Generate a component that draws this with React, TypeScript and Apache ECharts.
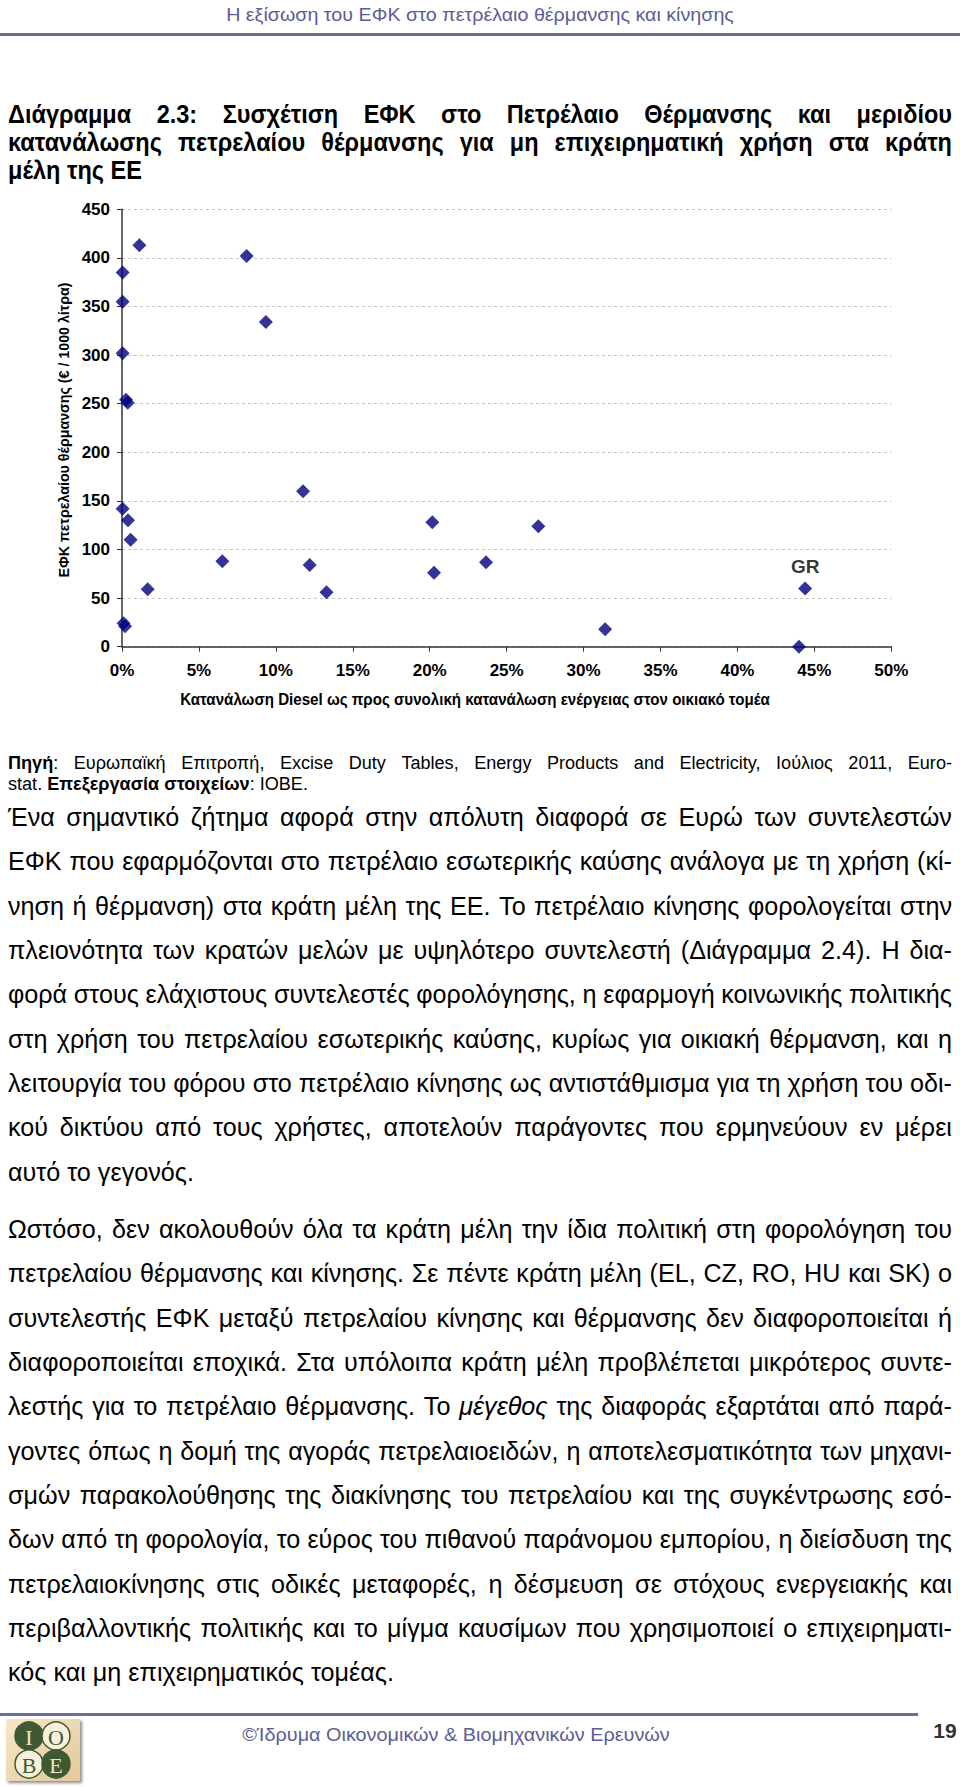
import React, { useEffect, useRef } from 'react';
import * as echarts from 'echarts';

// ---------- DATA ----------
const dieselShare = [1.13, 0.04, 0.04, 0.04, 0.26, 0.37, 0.04, 0.39, 0.56, 1.67, 0.1, 0.2, 8.1, 9.35, 6.52, 11.77, 12.2, 13.29, 20.17, 20.28, 23.66, 27.06, 31.4, 44.4, 44.0];
const heatingExcise = [413, 385, 355, 302, 254, 251, 142, 130, 110, 59, 24, 21, 402, 334, 88, 160, 84, 56, 128, 76, 87, 124, 18, 60, 0];
const pointLabels = ['', '', '', '', '', '', '', '', '', '', '', '', '', '', '', '', '', '', '', '', '', '', '', 'GR', ''];
const xTicks = [0, 5, 10, 15, 20, 25, 30, 35, 40, 45, 50];
const yTicks = [0, 50, 100, 150, 200, 250, 300, 350, 400, 450];

const headerText = 'Η εξίσωση του ΕΦΚ στο πετρέλαιο θέρμανσης και κίνησης';
const titleLines = [
  'Διάγραμμα 2.3: Συσχέτιση ΕΦΚ στο Πετρέλαιο Θέρμανσης και μεριδίου',
  'κατανάλωσης πετρελαίου θέρμανσης για μη επιχειρηματική χρήση στα κράτη',
  'μέλη της ΕΕ',
];
const yAxisTitle = 'ΕΦΚ πετρελαίου θέρμανσης (€ / 1000 λίτρα)';
const xAxisTitle = 'Κατανάλωση Diesel ως προς συνολική κατανάλωση ενέργειας στον οικιακό τομέα';
const sourceLines = [
  '**Πηγή**: Ευρωπαϊκή Επιτροπή, Excise Duty Tables, Energy Products and Electricity, Ιούλιος 2011, Euro-',
  'stat. **Επεξεργασία στοιχείων**: ΙΟΒΕ.',
];
const para1 = [
  'Ένα σημαντικό ζήτημα αφορά στην απόλυτη διαφορά σε Ευρώ των συντελεστών',
  'ΕΦΚ που εφαρμόζονται στο πετρέλαιο εσωτερικής καύσης ανάλογα με τη χρήση (κί-',
  'νηση ή θέρμανση) στα κράτη μέλη της ΕΕ. Το πετρέλαιο κίνησης φορολογείται στην',
  'πλειονότητα των κρατών μελών με υψηλότερο συντελεστή (Διάγραμμα 2.4). Η δια-',
  'φορά στους ελάχιστους συντελεστές φορολόγησης, η εφαρμογή κοινωνικής πολιτικής',
  'στη χρήση του πετρελαίου εσωτερικής καύσης, κυρίως για οικιακή θέρμανση, και η',
  'λειτουργία του φόρου στο πετρέλαιο κίνησης ως αντιστάθμισμα για τη χρήση του οδι-',
  'κού δικτύου από τους χρήστες, αποτελούν παράγοντες που ερμηνεύουν εν μέρει',
  'αυτό το γεγονός.',
];
const para2 = [
  'Ωστόσο, δεν ακολουθούν όλα τα κράτη μέλη την ίδια πολιτική στη φορολόγηση του',
  'πετρελαίου θέρμανσης και κίνησης. Σε πέντε κράτη μέλη (EL, CZ, RO, HU και SK) ο',
  'συντελεστής ΕΦΚ μεταξύ πετρελαίου κίνησης και θέρμανσης δεν διαφοροποιείται ή',
  'διαφοροποιείται εποχικά. Στα υπόλοιπα κράτη μέλη προβλέπεται μικρότερος συντε-',
  'λεστής για το πετρέλαιο θέρμανσης. Το __μέγεθος__ της διαφοράς εξαρτάται από παρά-',
  'γοντες όπως η δομή της αγοράς πετρελαιοειδών, η αποτελεσματικότητα των μηχανι-',
  'σμών παρακολούθησης της διακίνησης του πετρελαίου και της συγκέντρωσης εσό-',
  'δων από τη φορολογία, το εύρος του πιθανού παράνομου εμπορίου, η διείσδυση της',
  'πετρελαιοκίνησης στις οδικές μεταφορές, η δέσμευση σε στόχους ενεργειακής και',
  'περιβαλλοντικής πολιτικής και το μίγμα καυσίμων που χρησιμοποιεί ο επιχειρηματι-',
  'κός και μη επιχειρηματικός τομέας.',
];
const footerText = '©Ίδρυμα Οικονομικών & Βιομηχανικών Ερευνών';
const pageNumber = '19';

type Part = { t: string; w: string; s: string };

function parseLine(line: string): Part[][] {
  const words: Part[][] = [];
  let cur: Part[] = [];
  let bold = false;
  let ital = false;
  const pieces = line.split(/(\*\*|__)/);
  for (const p of pieces) {
    if (p === '**') { bold = !bold; continue; }
    if (p === '__') { ital = !ital; continue; }
    const chunks = p.split(' ');
    chunks.forEach((c, i) => {
      if (i > 0) { if (cur.length) words.push(cur); cur = []; }
      if (c) cur.push({ t: c, w: bold ? 'bold' : 'normal', s: ital ? 'italic' : 'normal' });
    });
  }
  if (cur.length) words.push(cur);
  return words;
}

export default function App() {
  const ref = useRef<HTMLDivElement>(null);
  useEffect(() => {
    const el = ref.current!;
    const chart = echarts.init(el, null, { renderer: 'svg' });
    const cv = document.createElement('canvas');
    const ctx = cv.getContext('2d')!;
    const probe = (font: string) => { ctx.font = font; return ctx.measureText('abcdefghijklmnopqrstuvwxyz0123456789').width; };
    const hasNarrow = Math.abs(probe('bold 20px "Liberation Sans Narrow", monospace') - probe('bold 20px monospace')) > 1;
    const FAM = hasNarrow ? 'Liberation Sans Narrow' : 'Liberation Sans';

    const mw = (t: string, size: number, weight = 'normal', style = 'normal') => {
      ctx.font = `${style} ${weight} ${size}px "${FAM}"`;
      return ctx.measureText(t).width;
    };
    const clamp = (v: number, a: number, b: number) => Math.max(a, Math.min(b, v));

    const els: any[] = [];
    const txt = (text: string, x: number, y: number, size: number, o: any = {}) => {
      els.push({
        type: 'text', x, y, scaleX: o.sx ?? 1, rotation: o.rot ?? 0, silent: true,
        style: {
          text, fontSize: size, fontFamily: FAM, fontWeight: o.w ?? 'normal', fontStyle: o.s ?? 'normal',
          fill: o.fill ?? '#000', align: o.align ?? 'left', verticalAlign: 'middle',
          textAlign: o.align ?? 'left', textVerticalAlign: 'middle',
        },
      });
    };
    const layLine = (line: string, x0: number, W: number, y: number, size: number, sx: number, justify: boolean, fill = '#000') => {
      const words = parseLine(line);
      const ww = words.map((wd) => wd.map((p) => mw(p.t, size, p.w, p.s) * sx));
      const wsum = ww.map((a) => a.reduce((s, v) => s + v, 0));
      const total = wsum.reduce((s, v) => s + v, 0);
      const space = mw(' ', size) * sx;
      let k = 1;
      if (total + space * 0.6 * (words.length - 1) > W) k = W / (total + space * 0.6 * (words.length - 1));
      const gap = justify && words.length > 1 ? (W - total * k) / (words.length - 1) : space * k;
      let x = x0;
      words.forEach((wd, i) => {
        wd.forEach((p, j) => {
          txt(p.t, x, y, size, { sx: sx * k, w: p.w, s: p.s, fill });
          x += ww[i][j] * k;
        });
        x += gap;
      });
    };

    // header
    const headSize = 18;
    txt(headerText, 480, 15, headSize, { sx: clamp(508 / mw(headerText, headSize), 0.6, 1.3), align: 'center', fill: '#5b5d95' });
    els.push({ type: 'rect', shape: { x: 0, y: 33, width: 960, height: 3 }, style: { fill: '#6b6d9d' }, silent: true });

    // title
    const tSize = 25;
    const tsx = clamp(134 / mw(titleLines[2], tSize, 'bold'), 0.6, 1.3);
    titleLines.forEach((l, i) => layLine('**' + l + '**', 8, 944, 114 + i * 28, tSize, tsx, i < titleLines.length - 1));

    // axis titles
    const yaSize = 15;
    txt(yAxisTitle, 64, 430, yaSize, { w: 'bold', rot: Math.PI / 2, align: 'center', sx: clamp(295 / mw(yAxisTitle, yaSize, 'bold'), 0.6, 1.3) });
    const xaSize = 16;
    txt(xAxisTitle, 475, 699, xaSize, { w: 'bold', align: 'center', sx: clamp(590 / mw(xAxisTitle, xaSize, 'bold'), 0.6, 1.3) });

    // body
    const bSize = 26;
    const bsx = clamp(186 / mw(para1[para1.length - 1], bSize), 0.6, 1.3);
    const sSize = 19;
    const ssx = clamp(300 / (mw('stat. ', sSize) + mw('Επεξεργασία στοιχείων', sSize, 'bold') + mw(': ΙΟΒΕ.', sSize)), 0.6, 1.3);
    sourceLines.forEach((l, i) => layLine(l, 8, 944, 762 + i * 21, sSize, ssx, i < sourceLines.length - 1));
    const step = 44.3;
    para1.forEach((l, i) => layLine(l, 8, 944, 817 + i * step, bSize, bsx, i < para1.length - 1));
    para2.forEach((l, i) => layLine(l, 8, 944, 1229 + i * step, bSize, bsx, i < para2.length - 1));

    // footer
    els.push({ type: 'rect', shape: { x: 0, y: 1713, width: 918, height: 3 }, style: { fill: '#6b6d9d' }, silent: true });
    const fSize = 19;
    txt(footerText, 456, 1734, fSize, { align: 'center', fill: '#5b5d95', sx: clamp(428 / mw(footerText, fSize), 0.6, 1.3) });
    txt(pageNumber, 945, 1730, 21, { align: 'center', w: 'bold', fill: '#333' });

    // logo
    els.push({
      type: 'rect', shape: { x: 6, y: 1719, width: 74, height: 62 }, silent: true,
      style: { fill: new echarts.graphic.LinearGradient(0, 0, 1, 1, [{ offset: 0, color: '#f6e7c8' }, { offset: 1, color: '#e3c999' }]), shadowBlur: 3, shadowOffsetX: 2, shadowOffsetY: 2, shadowColor: 'rgba(0,0,0,0.45)' },
    });
    const circ = [
      { cx: 29, cy: 1736, dark: true, l: 'I' },
      { cx: 56, cy: 1736, dark: false, l: 'O' },
      { cx: 29, cy: 1764, dark: false, l: 'B' },
      { cx: 56, cy: 1764, dark: true, l: 'E' },
    ];
    circ.forEach((c) => {
      els.push({ type: 'circle', shape: { cx: c.cx, cy: c.cy, r: 14 }, silent: true, style: { fill: c.dark ? '#3f5a33' : '#f8f0dc', stroke: '#3f5a33', lineWidth: 1.5 } });
    });
    circ.forEach((c) => {
      els.push({ type: 'text', x: c.cx, y: c.cy + 1, silent: true, style: { text: c.l, fontSize: 22, fontFamily: 'Liberation Serif', fill: c.dark ? '#efe4c8' : '#3f5a33', align: 'center', verticalAlign: 'middle', textAlign: 'center', textVerticalAlign: 'middle' } });
    });

    const axFam = FAM;
    const axSize = hasNarrow ? 19 : 17;

    const data = dieselShare.map((x, i) => {
      const item: any = { value: [x, heatingExcise[i]] };
      if (pointLabels[i]) {
        item.label = { show: true, formatter: pointLabels[i], position: 'top', distance: 5, fontFamily: 'Liberation Sans', fontWeight: 'bold', fontSize: 19, color: '#000' };
      }
      return item;
    });

    chart.setOption({
      animation: false,
      backgroundColor: '#fff',
      grid: { left: 122, right: 960 - 891.3, top: 209.3, bottom: 1787 - 646.7, containLabel: false, outerBoundsMode: 'none' },
      xAxis: {
        type: 'value', min: xTicks[0], max: xTicks[xTicks.length - 1], interval: xTicks[1] - xTicks[0],
        axisLine: { show: true, lineStyle: { color: '#333', width: 1.5 } },
        axisTick: { show: true, length: 5, lineStyle: { color: '#333' } },
        axisLabel: { formatter: (v: number) => v + '%', fontFamily: axFam, fontWeight: 'bold', fontSize: axSize, color: '#000', margin: 15 },
        splitLine: { show: false },
      },
      yAxis: {
        type: 'value', min: yTicks[0], max: yTicks[yTicks.length - 1], interval: yTicks[1] - yTicks[0],
        axisLine: { show: true, lineStyle: { color: '#333', width: 1.5 } },
        axisTick: { show: true, length: 5, lineStyle: { color: '#333' } },
        axisLabel: { fontFamily: axFam, fontWeight: 'bold', fontSize: axSize, color: '#000', margin: 12 },
        splitLine: { show: true, lineStyle: { color: '#c4c4c4', type: [3, 3], width: 1 } },
      },
      series: [{
        type: 'scatter', symbol: 'diamond', symbolSize: 14, data,
        itemStyle: { color: '#000080' }, z: 5,
      }],
      graphic: els,
    });
    return () => chart.dispose();
  }, []);
  return <div ref={ref} style={{ position: 'absolute', left: 0, top: 0, width: 960, height: 1787, background: '#fff' }} />;
}
